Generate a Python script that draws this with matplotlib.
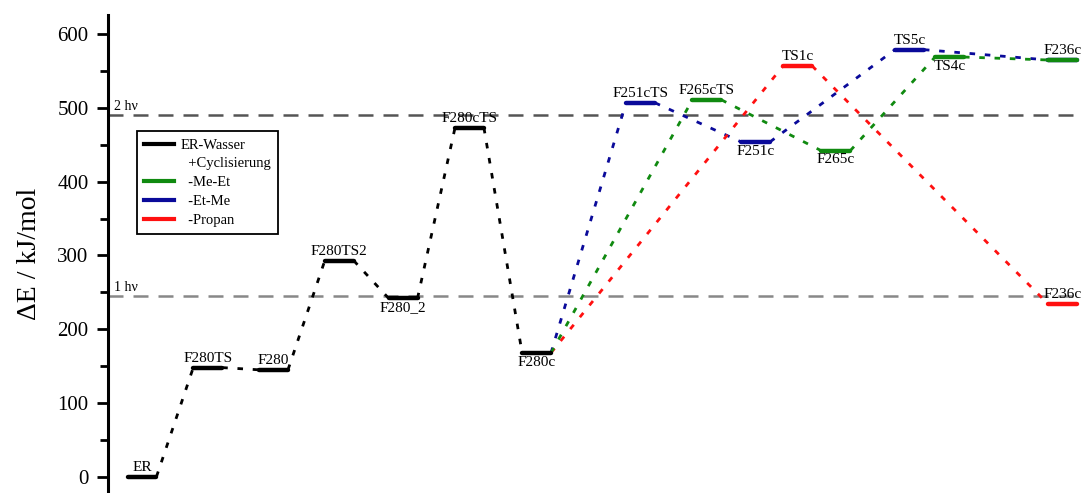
import matplotlib.pyplot as plt
from matplotlib.lines import Line2D

plt.rcParams['font.family'] = ['Liberation Serif', 'DejaVu Serif']

# main path (black)
black_names = ["ER", "F280TS", "F280", "F280TS2", "F280_2", "F280cTS", "F280c"]
black_x = [1.0, 2.0, 3.0, 4.0, 4.97, 5.98, 7.0]
black_e = [0, 148, 145, 293, 242, 473, 168]
black_pos = ["a", "a", "a", "a", "b", "a", "b"]

# -Et-Me (blue)
blue_names = ["F251cTS", "F251c", "TS5c", ""]
blue_x = [8.58, 10.33, 12.67, 15.0]
blue_e = [507, 454, 579, 565]
blue_pos = ["a", "b", "a", "a"]

# -Me-Et (green)
green_names = ["F265cTS", "F265c", "TS4c", "F236c"]
green_x = [9.59, 11.55, 13.28, 15.0]
green_e = [511, 442, 569, 565]
green_pos = ["a", "b", "b", "a"]

# -Propan (red)
red_names = ["TS1c", "F236c"]
red_x = [10.97, 15.0]
red_e = [557, 234]
red_pos = ["a", "a"]

hv1 = 245
hv2 = 490

HW = 0.22


def draw_path(ax, xs, es, names, pos, color, start=None):
    pts = []
    if start is not None:
        pts.append(start)
    pts += list(zip(xs, es))
    # connectors from right end to left end of next level
    for (x0, e0), (x1, e1) in zip(pts[:-1], pts[1:]):
        ax.plot([x0 + HW, x1 - HW], [e0, e1], color=color, lw=2,
                linestyle=(0, (2, 3.5)), zorder=2)
    for x, e, n, p in zip(xs, es, names, pos):
        ax.plot([x - HW, x + HW], [e, e], color=color, lw=3.2,
                solid_capstyle='round', zorder=3)
        if n:
            if p == "a":
                ax.annotate(n, (x, e), xytext=(0, 2), textcoords='offset points',
                            ha='center', va='bottom', fontsize=11)
            else:
                ax.annotate(n, (x, e), xytext=(0, -2), textcoords='offset points',
                            ha='center', va='top', fontsize=11)


fig = plt.figure(figsize=(10.83, 4.93), dpi=100)
ax = fig.add_axes([0.0997, 0.0, 0.8973, 0.9696])

ax.axhline(hv2, color='#555555', lw=1.8, linestyle=(0, (6, 4)), zorder=1)
ax.axhline(hv1, color='#888888', lw=1.8, linestyle=(0, (6, 4)), zorder=1)
ax.text(0.58, hv2 + 3, "2 hν", fontsize=10, va='bottom', ha='left')
ax.text(0.58, hv1 + 3, "1 hν", fontsize=10, va='bottom', ha='left')

draw_path(ax, black_x, black_e, black_names, black_pos, 'black')
start = (black_x[-1], black_e[-1])
draw_path(ax, blue_x, blue_e, blue_names, blue_pos, '#0a0a9a', start)
draw_path(ax, red_x, red_e, red_names, red_pos, '#ff1010', start)
draw_path(ax, green_x, green_e, green_names, green_pos, '#108a10', start)

ax.set_xlim(0.483, 15.26)
ax.set_ylim(-22, 626)
ax.set_yticks(range(0, 601, 100))
ax.set_yticks(range(50, 601, 100), minor=True)
ax.tick_params(axis='y', which='major', length=8, width=2, pad=6, labelsize=15)
ax.tick_params(axis='y', which='minor', length=6, width=2)
ax.set_xticks([])
for s in ['top', 'right', 'bottom']:
    ax.spines[s].set_visible(False)
ax.spines['left'].set_linewidth(2.2)

ax.set_ylabel("ΔE / kJ/mol", fontsize=20)
ax.yaxis.set_label_coords(-0.068, 0.5)

handles = [
    Line2D([], [], color='black', lw=3),
    Line2D([], [], color='none', lw=0),
    Line2D([], [], color='#108a10', lw=3),
    Line2D([], [], color='#0a0a9a', lw=3),
    Line2D([], [], color='#ff1010', lw=3),
]
labels = ["ER-Wasser", "  +Cyclisierung", "  -Me-Et", "  -Et-Me", "  -Propan"]
leg = ax.legend(handles, labels, loc='upper left', bbox_to_anchor=(0.030, 0.757),
                borderaxespad=0, fontsize=10.5, fancybox=False, framealpha=1,
                edgecolor='black', handlelength=2.0, handletextpad=0.5,
                labelspacing=0.38, borderpad=0.5)
leg.get_frame().set_linewidth(1.3)

fig.savefig("out.png", dpi=100)
